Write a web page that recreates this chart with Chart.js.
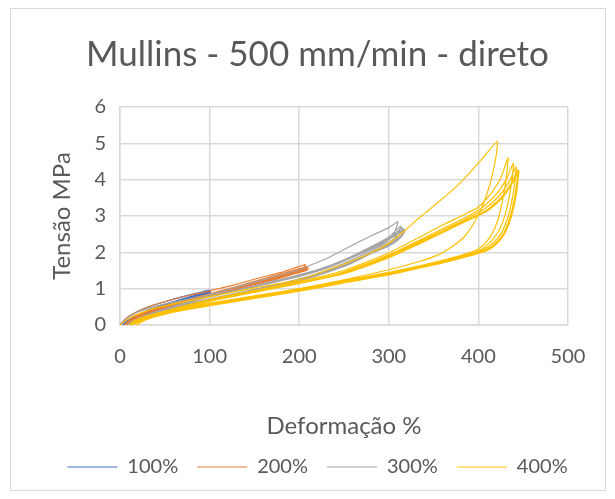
<!DOCTYPE html>
<html>
<head>
<meta charset="utf-8">
<script src="https://cdn.jsdelivr.net/npm/chart.js@4"></script>
<style>
  body { margin: 0; background: #fff; }
  #wrap { position: relative; width: 615px; height: 499px; }
  #frame { position: absolute; left: 10px; top: 8px; width: 594px; height: 481px; border: 1px solid #d9d9d9; pointer-events: none; }
</style>
</head>
<body>
<div id="wrap">
  <canvas id="mullinsChart" width="615" height="499"></canvas>
  <div id="frame"></div>
</div>
<script>
// strain (%) and stress (MPa), one continuous test path per series
const strain100 = [0,5,10,20,35,50,70,85,100, 97,85,65,45,25,10,3,
  6,15,30,50,70,85,101, 98,85,65,45,25,10,4,
  7,15,30,50,70,86,101, 98,85,65,45,25,10,5];
const stress100 = [0,.14,.24,.38,.53,.64,.78,.87,.96, .88,.78,.62,.47,.29,.12,0,
  .08,.22,.40,.57,.72,.83,.93, .86,.76,.60,.45,.27,.10,0,
  .07,.20,.38,.55,.70,.81,.91, .85,.75,.59,.44,.26,.09,0];

const strain200 = [0,5,10,20,35,50,70,100,130,150,180,207, 205,195,175,150,120,90,60,35,15,5,
  8,20,40,70,100,130,160,185,208, 206,195,175,150,120,90,60,35,15,6,
  9,20,40,70,100,130,160,185,209, 207,195,175,150,120,90,60,35,15,7,
  10,20,40,70,100,130,160,185,210, 208,195,175,150,120,90,60,35,15,7];
const stress200 = [0,.14,.24,.38,.53,.64,.77,.94,1.12,1.26,1.45,1.66, 1.57,1.46,1.31,1.15,.96,.76,.55,.35,.15,0,
  .08,.27,.46,.66,.86,1.06,1.27,1.44,1.61, 1.53,1.43,1.28,1.13,.94,.74,.53,.33,.13,0,
  .07,.25,.44,.64,.84,1.04,1.25,1.42,1.58, 1.51,1.42,1.27,1.12,.93,.73,.52,.32,.12,0,
  .07,.24,.43,.63,.83,1.03,1.24,1.41,1.56, 1.50,1.41,1.26,1.11,.92,.72,.51,.31,.11,0];

const strain300 = [0,5,10,20,40,70,100,150,200,211,233,255,280,300,310,
  308,304,295,280,255,230,200,150,100,60,30,12,8,
  12,30,60,100,150,200,230,255,280,300,313, 311,306,295,280,255,230,200,150,100,60,30,12,9,
  13,30,60,100,150,200,230,255,280,300,315, 313,308,297,280,255,230,200,150,100,60,30,13,10,
  14,30,60,100,150,200,230,255,280,300,317, 315,309,298,280,255,230,200,150,100,60,30,14,11,
  15,30,60,100,150,200,230,255,280,300,318, 316,310,299,280,255,230,200,150,100,60,30,15,12];
const stress300 = [0,.13,.22,.36,.52,.68,.84,1.18,1.52,1.63,1.86,2.14,2.45,2.68,2.84,
  2.65,2.45,2.25,2.05,1.75,1.50,1.27,.98,.72,.48,.25,.05,0,
  .08,.28,.52,.80,1.08,1.38,1.60,1.85,2.15,2.42,2.72, 2.55,2.38,2.20,2.00,1.70,1.47,1.24,.96,.70,.46,.23,.04,0,
  .07,.27,.51,.79,1.07,1.36,1.58,1.83,2.12,2.38,2.68, 2.52,2.36,2.18,1.98,1.68,1.46,1.23,.95,.69,.45,.22,.04,0,
  .07,.26,.50,.78,1.06,1.35,1.57,1.82,2.10,2.36,2.64, 2.50,2.34,2.17,1.97,1.67,1.45,1.22,.94,.68,.44,.21,.04,0,
  .07,.25,.49,.77,1.05,1.34,1.56,1.81,2.09,2.35,2.62, 2.49,2.33,2.16,1.96,1.66,1.44,1.21,.93,.67,.43,.20,.03,0];

const strain400 = [0,5,10,20,40,70,100,150,200,250,280,300,318,333,345,361,375,390,405,421,
  420,417,412,405,396,385,372,355,333,300,250,200,150,100,60,30,15,10,
  15,30,60,100,150,200,250,300,333,360,385,400,415,425,433,
  432,429,424,418,410,400,385,360,333,300,250,200,150,100,60,30,15,12,
  15,30,60,100,150,200,250,300,333,360,385,405,420,432,439,
  438,435,430,423,414,403,385,360,333,300,250,200,150,100,60,30,15,13,
  16,30,60,100,150,200,250,300,333,360,385,407,423,435,442,
  441,438,433,426,417,405,385,360,333,300,250,200,150,100,60,30,16,14,
  17,30,60,100,150,200,250,300,333,360,385,409,425,437,444,
  443,440,435,428,419,407,385,360,333,300,250,200,150,100,60,30,17,15,
  18,30,60,100,150,200,250,300,333,360,385,410,426,438,445,
  444,441,436,429,420,408,385,360,333,300,250,200,150,100,60,30,18];
const stress400 = [0,.10,.18,.30,.47,.63,.78,1.02,1.25,1.68,1.98,2.25,2.60,2.93,3.17,3.50,3.80,4.18,4.60,5.05,
  4.70,4.30,3.80,3.30,2.85,2.45,2.18,1.93,1.74,1.52,1.24,1.00,.80,.60,.42,.22,.08,0,
  .10,.25,.45,.70,.95,1.20,1.50,1.98,2.40,2.75,3.05,3.25,3.65,4.05,4.60,
  4.25,3.70,3.10,2.65,2.32,2.10,1.95,1.78,1.62,1.45,1.22,.98,.78,.58,.40,.20,.06,0,
  .08,.23,.43,.68,.93,1.17,1.46,1.93,2.32,2.65,2.95,3.25,3.60,4.05,4.45,
  4.10,3.60,3.05,2.60,2.30,2.08,1.92,1.75,1.60,1.42,1.20,.96,.76,.56,.38,.18,.05,0,
  .08,.22,.42,.67,.92,1.16,1.44,1.90,2.28,2.60,2.90,3.20,3.55,3.98,4.36,
  4.00,3.50,2.98,2.55,2.27,2.06,1.90,1.73,1.58,1.40,1.18,.95,.75,.55,.37,.17,.04,0,
  .07,.21,.41,.66,.91,1.15,1.42,1.87,2.24,2.56,2.86,3.16,3.50,3.92,4.28,
  3.95,3.45,2.95,2.52,2.25,2.04,1.88,1.72,1.57,1.39,1.17,.94,.74,.54,.36,.16,.04,0,
  .07,.20,.40,.65,.90,1.14,1.41,1.85,2.22,2.54,2.84,3.14,3.48,3.90,4.25,
  3.92,3.42,2.92,2.50,2.23,2.03,1.87,1.71,1.56,1.38,1.16,.93,.73,.53,.35,.15,0];

const seriesNames = ['100%', '200%', '300%', '400%'];
const seriesColors = ['#4472c4', '#ed7d31', '#a5a5a5', '#ffc000'];
const strains = [strain100, strain200, strain300, strain400];
const stresses = [stress100, stress200, stress300, stress400];

const textColor = '#595959';
const fontFamily = 'Lato, "Open Sans", sans-serif';

const datasets = seriesNames.map((name, i) => ({
    label: name,
    data: strains[i].map((x, k) => ({ x: x, y: stresses[i][k] })),
    borderColor: seriesColors[i],
    backgroundColor: seriesColors[i],
    borderWidth: 1.2,
    pointRadius: 0,
    showLine: true,
    tension: 0.2,
    order: seriesNames.length - i   // later series drawn on top, like Excel
}));

const ctx = document.getElementById('mullinsChart').getContext('2d');

new Chart(ctx, {
    type: 'scatter',
    data: { datasets: datasets },
    options: {
        responsive: false,
        animation: false,
        layout: { padding: { left: 20, right: 0, top: 8, bottom: 12 } },
        plugins: {
            tooltip: { enabled: false },
            title: {
                display: true,
                text: 'Mullins - 500 mm/min - direto',
                color: textColor,
                font: { family: fontFamily, size: 35, weight: 'normal' },
                padding: { top: 26, bottom: 31 }
            },
            legend: {
                position: 'bottom',
                labels: {
                    usePointStyle: true,
                    pointStyle: 'line',
                    pointStyleWidth: 50,
                    color: textColor,
                    font: { family: fontFamily, size: 20 },
                    padding: 19,
                    sort: (a, b) => a.datasetIndex - b.datasetIndex
                }
            }
        },
        scales: {
            x: {
                type: 'linear',
                min: 0,
                max: 500,
                ticks: { stepSize: 100, color: textColor, font: { family: fontFamily, size: 20 }, padding: 20 },
                grid: { color: '#d9d9d9', lineWidth: 1.5, drawTicks: false },
                border: { color: '#d9d9d9', width: 1.5 },
                title: {
                    display: true,
                    text: 'Deformação %',
                    color: textColor,
                    font: { family: fontFamily, size: 24 },
                    padding: { top: 40, bottom: -3 }
                },
                afterFit: scale => { scale.height = 113; }
            },
            y: {
                min: 0,
                max: 6,
                ticks: { stepSize: 1, autoSkip: false, color: textColor, font: { family: fontFamily, size: 20 }, padding: 14 },
                grid: { color: '#d9d9d9', lineWidth: 1.5, drawTicks: false },
                border: { color: '#d9d9d9', width: 1.5 },
                title: {
                    display: true,
                    text: 'Tensão MPa',
                    color: textColor,
                    font: { family: fontFamily, size: 24 },
                    padding: { top: 28, bottom: 0 }
                },
                afterFit: scale => { scale.width = 100; }
            },
            // empty right-hand axis that only reserves the margin right of the plot
            spacer: {
                position: 'right',
                ticks: { display: false },
                grid: { display: false },
                border: { display: false },
                afterFit: scale => { scale.width = 47; }
            }
        }
    }
});
</script>
</body>
</html>
